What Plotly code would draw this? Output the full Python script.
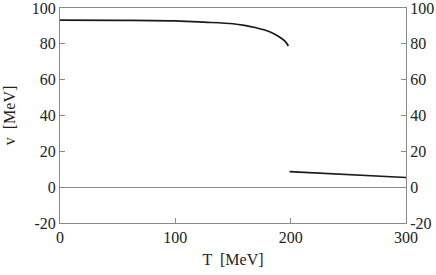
import plotly.graph_objects as go

T_low = [0, 50, 100, 125, 150, 160, 170, 180, 185, 190, 195, 198]
v_low = [93.2, 93.1, 92.8, 92.1, 91.2, 90.3, 89.0, 87.2, 85.8, 84.0, 81.5, 78.8]
T_high = [199, 300]
v_high = [8.7, 5.4]

x_ticks = [0, 100, 200, 300]
y_ticks = [-20, 0, 20, 40, 60, 80, 100]
y_labels = ["-20", "0", "20", "40", "60", "80", "100"]

FONT = "Liberation Serif, DejaVu Serif, serif"
AX = "#8a8a8a"

fig = go.Figure()
fig.add_trace(go.Scatter(x=T_low, y=v_low, mode="lines",
                         line=dict(color="#1a1a1a", width=1.7, shape="spline"),
                         showlegend=False))
fig.add_trace(go.Scatter(x=T_high, y=v_high, mode="lines",
                         line=dict(color="#1a1a1a", width=1.7),
                         showlegend=False))
fig.add_trace(go.Scatter(x=[0], y=[0], yaxis="y2", mode="markers",
                         marker=dict(opacity=0), showlegend=False, hoverinfo="skip"))

axis_common = dict(showgrid=False, ticks="inside", ticklen=5, tickcolor=AX,
                   linecolor=AX, linewidth=1, showline=True, automargin=False,
                   ticklabeloverflow="allow",
                   tickfont=dict(family=FONT, size=16, color="#222"))

fig.update_layout(
    width=436, height=275,
    margin=dict(l=60, r=30, t=8, b=52),
    paper_bgcolor="white", plot_bgcolor="white",
    font=dict(family=FONT, size=16, color="#222"),
    hovermode=False,
    xaxis=dict(range=[0, 300], tickvals=x_ticks, mirror=True,
               title=dict(text="T  [MeV]", font=dict(family=FONT, size=16), standoff=8),
               zeroline=False, **axis_common),
    yaxis=dict(range=[-20, 100], tickvals=y_ticks, ticktext=y_labels,
               title=dict(text="v  [MeV]", font=dict(family=FONT, size=16), standoff=12),
               zeroline=True, zerolinecolor=AX, zerolinewidth=1,
               **axis_common),
    yaxis2=dict(range=[-20, 100], tickvals=y_ticks, ticktext=y_labels,
                overlaying="y", side="right",
                zeroline=False, **axis_common),
)

fig.write_html("out.html", config={"displayModeBar": False},
               post_script="document.body.style.margin='0px';")
